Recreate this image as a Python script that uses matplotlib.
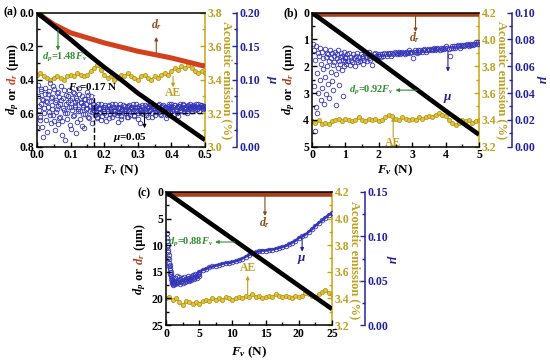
import numpy as np
import matplotlib
matplotlib.use("Agg")
import matplotlib.pyplot as plt
from matplotlib.ticker import MultipleLocator, AutoMinorLocator

plt.rcParams['font.family'] = ['Liberation Serif', 'DejaVu Serif']
plt.rcParams['font.weight'] = 'bold'
plt.rcParams['mathtext.fontset'] = 'custom'
plt.rcParams['mathtext.it'] = 'Liberation Serif:italic:bold'
plt.rcParams['mathtext.rm'] = 'Liberation Serif:bold'
plt.rcParams['mathtext.bf'] = 'Liberation Serif:bold'

W, H = 550, 361

# ---------------- panel (a) data ----------------
dp_a = [0, 0.08, 0.16, 0.245, 0.325, 0.40, 0.48, 0.55, 0.62, 0.69, 0.76]
dr_a = [0, 0.07, 0.12, 0.15, 0.18, 0.205, 0.23, 0.25, 0.27, 0.295, 0.32]
ae_a = [3.43, 3.44, 3.42, 3.41, 3.40, 3.41, 3.42, 3.41, 3.40, 3.42,
        3.43, 3.42, 3.44, 3.43, 3.42, 3.43, 3.45, 3.47, 3.49, 3.46,
        3.43, 3.41, 3.42, 3.40, 3.41, 3.43, 3.42, 3.44, 3.42, 3.41,
        3.40, 3.42, 3.43, 3.41, 3.40, 3.42, 3.41, 3.43, 3.44, 3.43,
        3.45, 3.47, 3.46, 3.48, 3.47, 3.49, 3.47, 3.45, 3.44, 3.45, 3.44]
mu_a_early = [0.030, 0.092, 0.061, 0.045, 0.083, 0.071, 0.015, 0.058, 0.088, 0.040,
              0.066, 0.079, 0.052, 0.095, 0.035, 0.074, 0.062, 0.048, 0.086, 0.025,
              0.069, 0.057, 0.081, 0.043, 0.064, 0.090, 0.038, 0.072, 0.055, 0.010,
              0.077, 0.050, 0.067, 0.084, 0.033, 0.060, 0.073, 0.046, 0.080, 0.059,
              0.020, 0.070, 0.053, 0.087, 0.041, 0.065, 0.076, 0.049, 0.062, 0.028,
              0.071, 0.056, 0.082, 0.044, 0.068, 0.054, 0.075, 0.036, 0.063, 0.058]
mu_a_early2 = [0.075, 0.055, 0.040, 0.086, 0.063, 0.030, 0.070, 0.050, 0.078, 0.068,
               0.022, 0.060, 0.083, 0.047, 0.072, 0.057, 0.091, 0.039, 0.066, 0.052,
               0.080, 0.034, 0.061, 0.074, 0.045, 0.069, 0.018, 0.058, 0.084, 0.051,
               0.064, 0.042, 0.076, 0.059, 0.070, 0.027, 0.055, 0.081, 0.048, 0.067,
               0.062, 0.073, 0.037, 0.057, 0.079, 0.053, 0.066, 0.031, 0.060, 0.071,
               0.049, 0.064, 0.058, 0.077, 0.043, 0.061, 0.068, 0.052, 0.060, 0.055]
mu_a_late = [0.055, 0.048, 0.061, 0.043, 0.058, 0.052, 0.064, 0.046, 0.057, 0.050,
             0.060, 0.038, 0.054, 0.062, 0.049, 0.056, 0.044, 0.059, 0.053, 0.063,
             0.047, 0.058, 0.051, 0.060, 0.041, 0.055, 0.062, 0.050, 0.057, 0.045,
             0.061, 0.053, 0.048, 0.059, 0.056, 0.064, 0.046, 0.054, 0.060, 0.051,
             0.058, 0.036, 0.055, 0.062, 0.049, 0.057, 0.053, 0.061, 0.044, 0.059,
             0.055, 0.063, 0.050, 0.058, 0.047, 0.060, 0.054, 0.062, 0.052, 0.057,
             0.048, 0.061, 0.056, 0.059, 0.043, 0.058, 0.053, 0.064, 0.051, 0.060,
             0.057, 0.049, 0.062, 0.055, 0.059, 0.046, 0.061, 0.054, 0.058, 0.063,
             0.052, 0.060, 0.056, 0.050, 0.062, 0.057, 0.059, 0.054, 0.061, 0.058,
             0.055, 0.063, 0.057, 0.060, 0.053, 0.062, 0.059, 0.056, 0.061, 0.058]
mu_a_late2 = [0.060, 0.052, 0.045, 0.063, 0.050, 0.057, 0.040, 0.059, 0.054, 0.062,
              0.047, 0.056, 0.061, 0.043, 0.058, 0.053, 0.064, 0.049, 0.055, 0.060,
              0.052, 0.037, 0.058, 0.063, 0.046, 0.057, 0.054, 0.061, 0.050, 0.059,
              0.044, 0.062, 0.056, 0.052, 0.060, 0.048, 0.058, 0.063, 0.055, 0.042,
              0.061, 0.057, 0.050, 0.059, 0.054, 0.062, 0.047, 0.058, 0.060, 0.053,
              0.064, 0.056, 0.045, 0.061, 0.058, 0.052, 0.060, 0.055, 0.063, 0.049,
              0.059, 0.057, 0.062, 0.054, 0.060, 0.047, 0.058, 0.061, 0.056, 0.063,
              0.053, 0.059, 0.062, 0.057, 0.050, 0.061, 0.058, 0.064, 0.055, 0.060,
              0.062, 0.057, 0.059, 0.053, 0.061, 0.058, 0.063, 0.056, 0.060, 0.062,
              0.058, 0.061, 0.057, 0.063, 0.059, 0.060, 0.062, 0.058, 0.061, 0.060]

# ---------------- panel (b) data ----------------
dp_b = [0, 0.90, 1.82, 2.74, 3.66, 4.55]
dr_b = [0.03, 0.03, 0.03, 0.03, 0.03, 0.03]
ae_b = [3.39, 3.38, 3.40, 3.37, 3.38, 3.37, 3.39, 3.40, 3.41, 3.39,
        3.41, 3.40, 3.39, 3.40, 3.42, 3.40, 3.39, 3.41, 3.40, 3.41,
        3.39, 3.40, 3.42, 3.44, 3.43, 3.41, 3.40, 3.42, 3.41, 3.40,
        3.41, 3.40, 3.42, 3.41, 3.42, 3.43, 3.42, 3.44, 3.45, 3.44,
        3.43, 3.40, 3.38, 3.36, 3.38, 3.40, 3.39, 3.40, 3.38, 3.39, 3.40]
mu_b_early = [0.077, 0.045, 0.072, 0.012, 0.065, 0.030, 0.075, 0.055, 0.025, 0.070,
              0.040, 0.068, 0.050, 0.074, 0.035, 0.062, 0.071, 0.044, 0.066, 0.058,
              0.032, 0.073, 0.052, 0.067, 0.039, 0.070, 0.060, 0.047, 0.069, 0.064,
              0.036, 0.072, 0.056, 0.066, 0.049, 0.070, 0.061, 0.042, 0.068, 0.063,
              0.071, 0.054, 0.031, 0.066, 0.069, 0.059, 0.072, 0.046, 0.064, 0.067,
              0.062, 0.070, 0.057, 0.068, 0.038, 0.065, 0.071, 0.060, 0.067, 0.064]
mu_b_mid = [0.066, 0.062, 0.069, 0.064, 0.070, 0.061, 0.067, 0.065, 0.063, 0.069,
            0.066, 0.060, 0.068, 0.065, 0.070, 0.063, 0.067, 0.064, 0.069, 0.066,
            0.062, 0.068, 0.065, 0.070, 0.067, 0.064, 0.069, 0.066, 0.071, 0.065,
            0.068, 0.061, 0.067, 0.069, 0.066, 0.070, 0.068, 0.065, 0.069, 0.068]
mu_b_late = [0.068, 0.069, 0.067, 0.069, 0.068, 0.070, 0.069, 0.068, 0.070, 0.069,
             0.070, 0.068, 0.070, 0.069, 0.071, 0.070, 0.069, 0.070, 0.071, 0.069,
             0.070, 0.071, 0.070, 0.069, 0.071, 0.070, 0.071, 0.072, 0.070, 0.071,
             0.066, 0.071, 0.072, 0.071, 0.070, 0.072, 0.071, 0.072, 0.071, 0.072,
             0.073, 0.072, 0.071, 0.072, 0.073, 0.072, 0.073, 0.072, 0.073, 0.074,
             0.072, 0.073, 0.074, 0.073, 0.072, 0.074, 0.073, 0.074, 0.073, 0.074,
             0.075, 0.074, 0.073, 0.068, 0.074, 0.075, 0.074, 0.075, 0.074, 0.075,
             0.076, 0.075, 0.074, 0.076, 0.075, 0.076, 0.075, 0.076, 0.077, 0.076,
             0.075, 0.077, 0.076, 0.077, 0.076, 0.077, 0.078, 0.077, 0.078, 0.077]

# ---------------- panel (c) data ----------------
dp_c = [0, 4.4, 8.8, 13.2, 17.6, 22.0]
dr_c = [0.35, 0.35, 0.35, 0.35, 0.35, 0.35]
ae_c = [3.40, 3.41, 3.39, 3.40, 3.37, 3.35, 3.38, 3.37, 3.36, 3.37,
        3.36, 3.38, 3.39, 3.38, 3.40, 3.39, 3.40, 3.39, 3.41, 3.40,
        3.39, 3.40, 3.41, 3.40, 3.42, 3.41, 3.43, 3.41, 3.42, 3.40,
        3.41, 3.42, 3.41, 3.43, 3.42, 3.41, 3.42, 3.41, 3.40, 3.42,
        3.41, 3.42, 3.44, 3.43, 3.42, 3.41, 3.43, 3.45, 3.46, 3.44, 3.43]
mu_c_early = [0.104, 0.095, 0.088, 0.098, 0.082, 0.090, 0.076, 0.085, 0.070, 0.079,
              0.066, 0.074, 0.062, 0.068, 0.058, 0.064, 0.055, 0.060, 0.052, 0.057,
              0.049, 0.054, 0.047, 0.051, 0.046, 0.050, 0.048, 0.045, 0.049, 0.047]
mu_c_mid = [0.050, 0.046, 0.053, 0.048, 0.055, 0.047, 0.051, 0.049, 0.054, 0.046,
            0.052, 0.048, 0.050, 0.053, 0.047, 0.051, 0.054, 0.049, 0.052, 0.050,
            0.053, 0.051, 0.055, 0.050, 0.053, 0.052, 0.054, 0.051, 0.055, 0.053,
            0.056, 0.052, 0.054, 0.057, 0.055, 0.053, 0.056, 0.058, 0.055, 0.058]
mu_c_late = [0.060, 0.062, 0.063, 0.065, 0.066, 0.067, 0.068, 0.069, 0.070, 0.070,
             0.071, 0.072, 0.073, 0.075, 0.077, 0.079, 0.081, 0.082, 0.083, 0.084,
             0.084, 0.085, 0.085, 0.086, 0.087, 0.088, 0.089, 0.091, 0.093, 0.095,
             0.098, 0.100, 0.102, 0.105, 0.108, 0.112, 0.115, 0.118, 0.121, 0.124, 0.126]

# colours
DR_RED = '#d2401e'
DR_BROWN = '#a8401a'
AE_COL = '#c9a412'
AE_TXT = '#bfa020'
MU_COL = '#24249a'
MU_MK = '#3535b8'
GREEN = '#2f8f2f'

fig = plt.figure(figsize=(5.5, 3.61), dpi=100)


def rect(x0, y0, x1, y1):
    return [x0 / W, 1 - y1 / H, (x1 - x0) / W, (y1 - y0) / H]


def make_panel(box, offset, xlim, xstep, dlim, dstep, aelim, mulim, mustep, xfmt, dfmt, mufmt):
    ax = fig.add_axes(box)
    ae = ax.twinx()
    mu = ax.twinx()
    mu.spines['right'].set_position(('outward', offset))
    ax.set_zorder(3)
    ax.patch.set_visible(False)
    ae.set_zorder(1)
    mu.set_zorder(2)
    for s in ['left', 'top', 'bottom']:
        mu.spines[s].set_visible(False)
        ae.spines[s].set_visible(False)
    ax.spines['right'].set_visible(False)
    for a in (ax, ae, mu):
        for s in a.spines.values():
            s.set_linewidth(1.1)
    ae.spines['right'].set_color(AE_COL)
    mu.spines['right'].set_color(MU_COL)

    ax.set_xlim(*xlim)
    ax.set_ylim(dlim[1], dlim[0])
    ae.set_ylim(*aelim)
    mu.set_ylim(*mulim)
    ax.xaxis.set_major_locator(MultipleLocator(xstep))
    ax.yaxis.set_major_locator(MultipleLocator(dstep))
    ae.yaxis.set_major_locator(MultipleLocator(0.2))
    mu.yaxis.set_major_locator(MultipleLocator(mustep))
    ax.xaxis.set_major_formatter(xfmt)
    ax.yaxis.set_major_formatter(dfmt)
    ae.yaxis.set_major_formatter('{x:.1f}')
    mu.yaxis.set_major_formatter(mufmt)
    for a in (ax.xaxis, ax.yaxis, ae.yaxis, mu.yaxis):
        a.set_minor_locator(AutoMinorLocator(2))

    ax.tick_params(which='both', direction='in', labelsize=8.5, width=1, pad=2)
    ax.tick_params(which='major', length=3.5)
    ax.tick_params(which='minor', length=2)
    ax.tick_params(axis='y', which='both', right=False)
    ae.tick_params(which='both', direction='in', colors=AE_COL, labelsize=8.5, width=1, pad=2)
    ae.tick_params(which='major', length=3.5)
    ae.tick_params(which='minor', length=2)
    mu.tick_params(which='both', direction='in', colors=MU_COL, labelsize=8.5, width=1, pad=2)
    mu.tick_params(which='major', length=3.5)
    mu.tick_params(which='minor', length=2)
    for t in ae.get_yticklabels():
        t.set_color(AE_TXT)
    return ax, ae, mu


def stacked_ylabel(x, yc, parts, size=9):
    r = fig.canvas.get_renderer()
    texts = []
    for s, c in parts:
        t = fig.text(x / W, 0, s, color=c, rotation=90, ha='center', va='bottom',
                     fontsize=size, fontweight='bold')
        texts.append(t)
    hs = [t.get_window_extent(r).height / H for t in texts]
    y = (1 - yc / H) - sum(hs) / 2
    for t, h in zip(texts, hs):
        t.set_y(y)
        y += h


def side_labels(xl, xc, yl, yc, xae, xmu, red):
    fig.text(xc / W, 1 - yl / H, r'$F_v$ (N)', ha='center', va='center', fontsize=9.5)
    stacked_ylabel(xl, yc, [(r'$d_p$', 'black'), (' or ', 'black'),
                            (r'$d_r$', red), (' (μm)', 'black')])
    fig.text(xae / W, 1 - yc / H, 'Acoustic emission (%)', rotation=270, ha='center',
             va='center', fontsize=9, color=AE_TXT)
    fig.text(xmu / W, 1 - yc / H, r'$\mu$', rotation=270, ha='center', va='center',
             fontsize=9.5, color=MU_COL)


def arrow(a, head, tail, color):
    a.annotate('', xy=head, xytext=tail,
               arrowprops=dict(arrowstyle='-|>', color=color, lw=0.8,
                               mutation_scale=5, shrinkA=0, shrinkB=0))


mu_kw = dict(ls='none', marker='o', mfc='none', mec=MU_MK, ms=3.3, mew=0.6)
ae_kw = dict(color=AE_COL, lw=1.0, marker='o', ms=3.0, mfc='#e6c23a', mec='#a89010', mew=0.5)
EQ = 7.5

# ---------------- panel (a) ----------------
ax, ae, mu = make_panel(rect(37, 12.7, 205, 146.7), 23, (0, 0.5), 0.1, (0, 0.8), 0.2,
                        (3.0, 3.8), (0, 0.2), 0.05, '{x:.1f}', '{x:.1f}', '{x:.2f}')
F_d = np.linspace(0, 0.5, len(dp_a))
mu.plot(np.linspace(0, 0.17, len(mu_a_early)), mu_a_early, **mu_kw)
mu.plot(np.linspace(0.002, 0.168, len(mu_a_early2)), mu_a_early2, **mu_kw)
mu.plot(np.linspace(0.17, 0.5, len(mu_a_late)), mu_a_late, **mu_kw)
mu.plot(np.linspace(0.172, 0.498, len(mu_a_late2)), mu_a_late2, **mu_kw)
mu.plot([0.17, 0.5], [0.05, 0.05], color='black', ls='--', lw=1.0, zorder=5)
ae.plot(np.linspace(0, 0.5, len(ae_a)), ae_a, **ae_kw)
ax.plot(F_d, dr_a, color=DR_RED, lw=3.6, solid_capstyle='butt')
ax.plot(F_d, dp_a, color='black', lw=3.3, solid_capstyle='butt')
ax.plot([0.17, 0.17], [0.8, 0.49], color='black', ls='--', lw=1.0)
fig.text(4 / W, 1 - 12 / H, '(a)', ha='left', va='center', fontsize=8.5)
ax.text(0.357, 0.07, r'$d_r$', color='#8b4a1a', ha='center', va='center', fontsize=8.5)
arrow(ax, (0.355, 0.145), (0.355, 0.24), '#8b4a1a')
ax.text(0.015, 0.265, r'$d_p$=1.48$F_v$', color=GREEN, ha='left', va='center', fontsize=EQ)
arrow(ax, (0.0625, 0.225), (0.0625, 0.10), GREEN)
ae.text(0.405, 3.32, 'AE', color=AE_TXT, ha='center', va='center', fontsize=8.5)
arrow(ae, (0.405, 3.355), (0.405, 3.42), AE_TXT)
ax.text(0.167, 0.45, r'$F_v$=0.17 N', color='black', ha='center', va='center', fontsize=8)
ax.text(0.277, 0.745, r'$\mu$=0.05', color='black', ha='center', va='center', fontsize=8)
arrow(ax, (0.32, 0.69), (0.32, 0.60), 'black')
side_labels(13, 121, 170, 80, 227, 271, DR_RED)

# ---------------- panel (b) ----------------
ax, ae, mu = make_panel(rect(312, 12.7, 479, 146.7), 23.8, (0, 5), 1, (0, 5), 1,
                        (3.2, 4.2), (0, 0.1), 0.02, '{x:.0f}', '{x:.0f}', '{x:.2f}')
F_d = np.linspace(0, 5, len(dp_b))
mu.plot(np.linspace(0.03, 1.0, len(mu_b_early)), mu_b_early, **mu_kw)
mu.plot(np.linspace(1.0, 2.0, len(mu_b_mid)), mu_b_mid, **mu_kw)
mu.plot(np.linspace(2.0, 5.0, len(mu_b_late)), mu_b_late, **mu_kw)
ae.plot(np.linspace(0, 5, len(ae_b)), ae_b, **ae_kw)
ax.plot(F_d, dr_b, color=DR_BROWN, lw=4.0, solid_capstyle='butt')
ax.plot(F_d, dp_b, color='black', lw=3.3, solid_capstyle='butt')
fig.text(284 / W, 1 - 13 / H, '(b)', ha='left', va='center', fontsize=8.5)
ax.text(3.08, 0.94, r'$d_r$', color='#8b4a1a', ha='center', va='center', fontsize=8.5)
arrow(ax, (3.1, 0.72), (3.1, 0.08), '#8b4a1a')
mu.text(4.07, 0.036, r'$\mu$', color=MU_COL, ha='center', va='center', fontsize=9.5)
arrow(mu, (4.07, 0.056), (4.07, 0.071), MU_COL)
ax.text(2.45, 2.89, r'$d_p$=0.92$F_v$', color=GREEN, ha='right', va='center', fontsize=EQ)
arrow(ax, (2.5, 2.89), (3.15, 2.89), GREEN)
ae.text(2.43, 3.23, 'AE', color=AE_TXT, ha='center', va='center', fontsize=8.5)
arrow(ae, (2.43, 3.42), (2.43, 3.27), AE_TXT)
side_labels(289, 395, 170, 80, 502, 541, DR_BROWN)

# ---------------- panel (c) ----------------
ax, ae, mu = make_panel(rect(166, 192, 332, 325), 23.8, (0, 25), 5, (0, 25), 5,
                        (3.2, 4.2), (0, 0.15), 0.05, '{x:.0f}', '{x:.0f}', '{x:.2f}')
F_d = np.linspace(0, 25, len(dp_c))
mu.plot(np.linspace(0.1, 1.2, len(mu_c_early)), mu_c_early, **mu_kw)
mu.plot(np.linspace(1.2, 5.0, len(mu_c_mid)), mu_c_mid, **mu_kw)
mu.plot(np.linspace(5.0, 25.0, len(mu_c_late)), mu_c_late, color=MU_MK, lw=1.8,
        marker='o', mfc='none', mec=MU_MK, ms=3.3, mew=0.6)
ae.plot(np.linspace(0, 25, len(ae_c)), ae_c, **ae_kw)
ax.plot(F_d, dr_c, color=DR_BROWN, lw=4.0, solid_capstyle='butt')
ax.plot(F_d, dp_c, color='black', lw=3.3, solid_capstyle='butt')
fig.text(137 / W, 1 - 193 / H, '(c)', ha='left', va='center', fontsize=8.5)
ax.text(14.9, 5.8, r'$d_r$', color='#8b4a1a', ha='center', va='center', fontsize=8.5)
arrow(ax, (14.9, 4.5), (14.9, 0.6), '#8b4a1a')
ax.text(7.2, 9.4, r'$d_p$=0.88$F_v$', color=GREEN, ha='right', va='center', fontsize=EQ)
arrow(ax, (7.4, 9.4), (10.4, 9.4), GREEN)
ax.text(20.5, 12.6, r'$\mu$', color=MU_COL, ha='center', va='center', fontsize=9.5)
arrow(ax, (20.5, 11.2), (20.5, 8.6), MU_COL)
ae.text(12.3, 3.63, 'AE', color=AE_TXT, ha='center', va='center', fontsize=8.5)
arrow(ae, (12.3, 3.57), (12.3, 3.43), AE_TXT)
side_labels(140, 249, 352, 260, 355, 390, DR_BROWN)

fig.savefig('out.png', dpi=100)
